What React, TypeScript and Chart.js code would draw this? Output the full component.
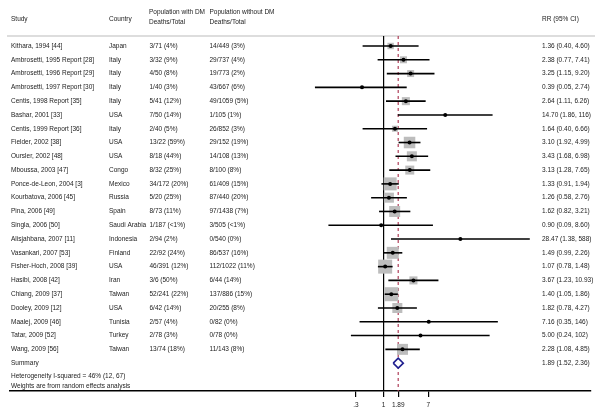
import React, { useEffect, useRef } from 'react';
import { Chart, registerables } from 'chart.js';

Chart.register(...registerables);

const studies = [
  'Kithara, 1994 [44]', 'Ambrosetti, 1995 Report [28]', 'Ambrosetti, 1996 Report [29]',
  'Ambrosetti, 1997 Report [30]', 'Centis, 1998 Report [35]', 'Bashar, 2001 [33]',
  'Centis, 1999 Report [36]', 'Fielder, 2002 [38]', 'Oursler, 2002 [48]', 'Mboussa, 2003 [47]',
  'Ponce-de-Leon, 2004 [3]', 'Kourbatova, 2006 [45]', 'Pina, 2006 [49]', 'Singla, 2006 [50]',
  'Alisjahbana, 2007 [11]', 'Vasankari, 2007 [53]', 'Fisher-Hoch, 2008 [39]', 'Hasibi, 2008 [42]',
  'Chiang, 2009 [37]', 'Dooley, 2009 [12]', 'Maalej, 2009 [46]', 'Tatar, 2009 [52]', 'Wang, 2009 [56]',
];
const countries = [
  'Japan', 'Italy', 'Italy', 'Italy', 'Italy', 'USA', 'Italy', 'USA', 'USA', 'Congo', 'Mexico',
  'Russia', 'Spain', 'Saudi Arabia', 'Indonesia', 'Finland', 'USA', 'Iran', 'Taiwan', 'USA',
  'Tunisia', 'Turkey', 'Taiwan',
];
const dmDeaths = [
  '3/71 (4%)', '3/32 (9%)', '4/50 (8%)', '1/40 (3%)', '5/41 (12%)', '7/50 (14%)', '2/40 (5%)',
  '13/22 (59%)', '8/18 (44%)', '8/32 (25%)', '34/172 (20%)', '5/20 (25%)', '8/73 (11%)',
  '1/187 (<1%)', '2/94 (2%)', '22/92 (24%)', '46/391 (12%)', '3/6 (50%)', '52/241 (22%)',
  '6/42 (14%)', '2/57 (4%)', '2/78 (3%)', '13/74 (18%)',
];
const nonDmDeaths = [
  '14/449 (3%)', '29/737 (4%)', '19/773 (2%)', '43/667 (6%)', '49/1059 (5%)', '1/105 (1%)',
  '26/852 (3%)', '29/152 (19%)', '14/108 (13%)', '8/100 (8%)', '61/409 (15%)', '87/440 (20%)',
  '97/1438 (7%)', '3/505 (<1%)', '0/540 (0%)', '86/537 (16%)', '112/1022 (11%)', '6/44 (14%)',
  '137/886 (15%)', '20/255 (8%)', '0/82 (0%)', '0/78 (0%)', '11/143 (8%)',
];
const rr = [1.36, 2.38, 3.25, 0.39, 2.64, 14.70, 1.64, 3.10, 3.43, 3.13, 1.33, 1.26, 1.62, 0.90,
  28.47, 1.49, 1.07, 3.67, 1.40, 1.82, 7.16, 5.00, 2.28];
const ciLow = [0.40, 0.77, 1.15, 0.05, 1.11, 1.86, 0.40, 1.92, 1.68, 1.28, 0.91, 0.58, 0.82, 0.09,
  1.38, 0.99, 0.78, 1.23, 1.05, 0.78, 0.35, 0.24, 1.08];
const ciHigh = [4.60, 7.41, 9.20, 2.74, 6.26, 116, 6.66, 4.99, 6.98, 7.65, 1.94, 2.76, 3.21, 8.60,
  588, 2.26, 1.48, 10.93, 1.86, 4.27, 146, 102, 4.85];
const weights = [2.3, 2.7, 2.7, 0.5, 3.6, 0.2, 2.0, 7.4, 5.6, 4.5, 9.4, 5.6, 6.7, 0.2, 0.2, 8.0,
  10.9, 3.6, 10.9, 5.6, 0.2, 0.2, 6.7];
const summaryRR = 1.89;
const summaryLow = 1.52;
const summaryHigh = 2.36;
const summaryLabels = ['Summary', 'Heterogeneity I-squared = 46% (12, 67)', 'Weights are from random effects analysis'];
const tickValues = [0.3, 1, 1.89, 7];
const tickLabels = ['.3', '1', '1.89', '7'];

const FONT = '"Liberation Sans", Arial, Helvetica, sans-serif';
const FS = 6.5;
const Y_MIN = 0.275;
const Y_MAX = 26.02;
const SUMMARY_ROW = studies.length + 1;

const fmt = (v: number) => (v >= 100 ? String(Math.round(v)) : v.toFixed(2));

const tablePlugin = {
  id: 'tableText',
  beforeDatasetsDraw(chart: any) {
    const ctx = chart.ctx;
    ctx.save();
    ctx.strokeStyle = '#d2d2d2';
    ctx.lineWidth = 1.5;
    ctx.beginPath();
    ctx.moveTo(7, 36);
    ctx.lineTo(595, 36);
    ctx.stroke();
    ctx.restore();
  },
  afterDraw(chart: any) {
    const ctx = chart.ctx;
    const ys = chart.scales.y;
    ctx.save();
    ctx.font = `${FS}px ${FONT}`;
    ctx.fillStyle = '#222';
    ctx.textBaseline = 'middle';
    ctx.textAlign = 'left';
    ctx.fillText('Study', 11, 19);
    ctx.fillText('Country', 109, 19);
    ctx.fillText('Population with DM', 149, 12.5);
    ctx.fillText('Deaths/Total', 149, 22);
    ctx.fillText('Population without DM', 209.5, 12.5);
    ctx.fillText('Deaths/Total', 209.5, 22);
    ctx.fillText('RR (95% CI)', 542, 19);
    studies.forEach((s, i) => {
      const y = ys.getPixelForValue(i + 1);
      ctx.fillText(s, 11, y);
      ctx.fillText(countries[i], 109, y);
      ctx.fillText(dmDeaths[i], 149.5, y);
      ctx.fillText(nonDmDeaths[i], 209.5, y);
      ctx.fillText(`${fmt(rr[i])} (${fmt(ciLow[i])}, ${fmt(ciHigh[i])})`, 542, y);
    });
    const ySum = ys.getPixelForValue(SUMMARY_ROW);
    ctx.fillText(summaryLabels[0], 11, ySum);
    ctx.fillText(summaryLabels[1], 11, ySum + 12.7);
    ctx.fillText(summaryLabels[2], 11, ySum + 22.8);
    ctx.fillText(`${fmt(summaryRR)} (${fmt(summaryLow)}, ${fmt(summaryHigh)})`, 542, ySum);
    ctx.restore();
  },
};

export default function App() {
  const ref = useRef<HTMLCanvasElement>(null);
  useEffect(() => {
    if (!ref.current) return;
    const ciSets = studies.map((_, i) => ({
      type: 'scatter',
      showLine: true,
      data: [{ x: ciLow[i], y: i + 1 }, { x: ciHigh[i], y: i + 1 }],
      borderColor: '#000',
      borderWidth: 1.6,
      pointRadius: 0,
      order: 7,
    }));
    const chart = new Chart(ref.current, {
      type: 'scatter',
      data: {
        datasets: [
          {
            showLine: true,
            data: [{ x: 1, y: Y_MIN }, { x: 1, y: Y_MAX }],
            borderColor: '#000',
            borderWidth: 1.2,
            pointRadius: 0,
            order: 10,
          },
          {
            showLine: true,
            data: [{ x: summaryRR, y: Y_MIN }, { x: summaryRR, y: Y_MAX }],
            borderColor: '#b0405a',
            borderWidth: 1.2,
            borderDash: [3, 3],
            pointRadius: 0,
            order: 9,
          },
          {
            data: rr.map((v, i) => ({ x: v, y: i + 1 })),
            pointStyle: 'rect',
            pointRadius: weights.map((w) => (4.24 * Math.sqrt(w)) / Math.SQRT2),
            backgroundColor: '#bdbdbd',
            borderWidth: 0,
            order: 8,
          },
          ...ciSets,
          {
            data: rr.map((v, i) => ({ x: v, y: i + 1 })),
            pointStyle: 'circle',
            pointRadius: 2,
            backgroundColor: '#000',
            borderWidth: 0,
            order: 6,
          },
          {
            showLine: true,
            data: [
              { x: summaryLow, y: SUMMARY_ROW },
              { x: summaryRR, y: SUMMARY_ROW - 0.36 },
              { x: summaryHigh, y: SUMMARY_ROW },
              { x: summaryRR, y: SUMMARY_ROW + 0.36 },
              { x: summaryLow, y: SUMMARY_ROW },
            ],
            borderColor: '#1f1f8f',
            borderWidth: 1.6,
            backgroundColor: '#fff',
            fill: 'shape',
            pointRadius: 0,
            order: 5,
          },
        ] as any,
      },
      options: {
        responsive: false,
        animation: false,
        events: [],
        layout: { padding: { left: 7, right: 5, top: 36, bottom: 0 } },
        plugins: { legend: { display: false }, tooltip: { enabled: false } },
        scales: {
          x: {
            type: 'logarithmic',
            min: Math.pow(10, -7.08),
            max: Math.pow(10, 3.912),
            afterBuildTicks: (s: any) => {
              s.ticks = tickValues.map((v) => ({ value: v }));
            },
            afterFit: (s: any) => {
              s.height = 20;
            },
            ticks: {
              autoSkip: false,
              maxRotation: 0,
              minRotation: 0,
              padding: 4,
              color: '#222',
              font: { size: FS, family: FONT },
              callback: (v: any) => {
                const k = tickValues.indexOf(Number(v));
                return k >= 0 ? tickLabels[k] : '';
              },
            },
            grid: {
              display: true,
              drawOnChartArea: false,
              drawTicks: true,
              tickLength: 6,
              color: '#000',
              lineWidth: 1.2,
            },
            border: { display: true, color: '#000', width: 1.6 },
          },
          y: {
            type: 'linear',
            display: false,
            reverse: true,
            min: Y_MIN,
            max: Y_MAX,
          },
        },
      } as any,
      plugins: [tablePlugin],
    });
    return () => chart.destroy();
  }, []);
  return (
    <div style={{ position: 'absolute', left: 0, top: 0, width: 600, height: 411, background: '#fff' }}>
      <canvas ref={ref} width={600} height={411} />
    </div>
  );
}
